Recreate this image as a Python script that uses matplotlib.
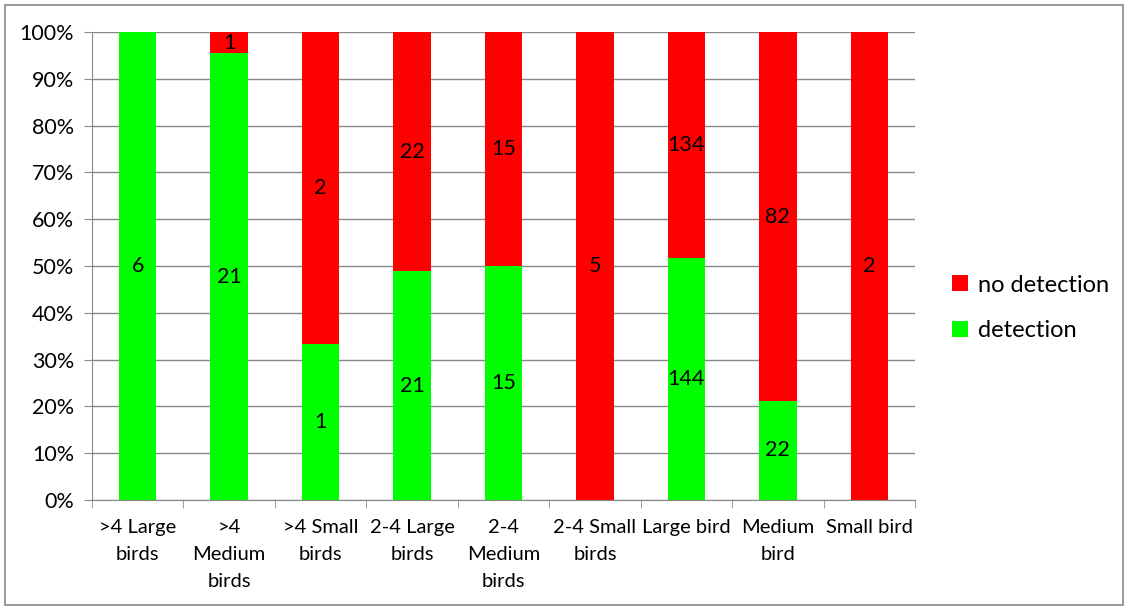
import numpy as np
import matplotlib.pyplot as plt
from matplotlib.patches import Rectangle

# Counts per category
categories = [">4 Large\nbirds", ">4\nMedium\nbirds", ">4 Small\nbirds", "2-4 Large\nbirds",
              "2-4\nMedium\nbirds", "2-4 Small\nbirds", "Large bird", "Medium\nbird", "Small bird"]
detection = np.array([6, 21, 1, 21, 15, 0, 144, 22, 0])
no_detection = np.array([0, 1, 2, 22, 15, 5, 134, 82, 2])

total = detection + no_detection
det_pct = detection / total * 100
nodet_pct = no_detection / total * 100

plt.rcParams['font.family'] = ['Lato', 'DejaVu Sans']
fig = plt.figure(figsize=(11.29, 6.10), dpi=100)
ax = fig.add_axes([92 / 1129, 1 - 500 / 610, (915 - 92) / 1129, (500 - 32) / 610])

x = np.arange(len(categories))
w = 0.41
green, red = "#00ff00", "#ff0000"
ax.bar(x, det_pct, width=w, color=green, label="detection", zorder=2)
ax.bar(x, nodet_pct, width=w, bottom=det_pct, color=red, label="no detection", zorder=2)

# segment labels
for i in range(len(x)):
    if detection[i] > 0:
        ax.text(x[i], det_pct[i] / 2, str(detection[i]), ha="center", va="center", fontsize=15.5, zorder=3)
    if no_detection[i] > 0:
        ax.text(x[i], det_pct[i] + nodet_pct[i] / 2, str(no_detection[i]), ha="center", va="center",
                fontsize=15.5, zorder=3)

ax.set_xlim(-0.5, len(x) - 0.5)
ax.set_ylim(0, 100)
ax.set_yticks(np.arange(0, 101, 10))
ax.set_yticklabels([f"{v}%" for v in range(0, 101, 10)], fontsize=15.5)
ax.set_xticks(x)
ax.set_xticklabels(categories, fontsize=14.5, linespacing=1.7, va="top")
ax.set_xticks(np.arange(-0.5, len(x)), minor=True)
ax.tick_params(axis="x", which="major", length=0, pad=14)
ax.tick_params(axis="x", which="minor", length=6, color="#888888")
ax.tick_params(axis="y", length=6, color="#888888", pad=7)
ax.grid(axis="y", color="#888888", linewidth=1, zorder=0)
for s in ["top", "right"]:
    ax.spines[s].set_visible(False)
for s in ["left", "bottom"]:
    ax.spines[s].set_color("#888888")

h, l = ax.get_legend_handles_labels()
fig.legend(h[::-1], l[::-1], loc="center left", bbox_to_anchor=(931 / 1129, 1 - 308 / 610),
           frameon=False, fontsize=17, handlelength=0.65, handleheight=0.65, labelspacing=1.05,
           handletextpad=0.45)

fig.patches.append(Rectangle((5 / 1129, 5 / 610), 1118 / 1129, 600 / 610, transform=fig.transFigure,
                             fill=False, edgecolor="#888888", linewidth=1.2))

fig.savefig("out.png", dpi=100)
